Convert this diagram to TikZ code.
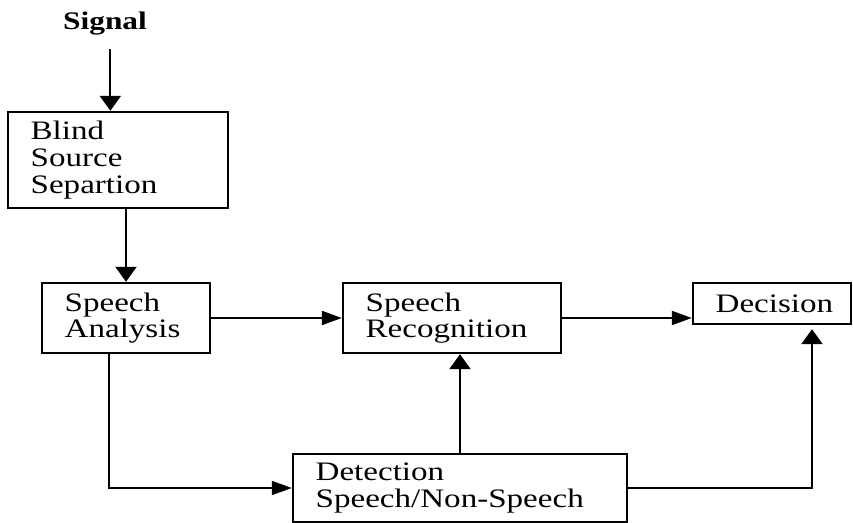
\documentclass[tikz,border=0pt]{standalone}
\usepackage{fontspec}
\setmainfont[FakeStretch=1.24]{Liberation Serif}
\usetikzlibrary{arrows.meta}

\tikzset{
	blk/.style={draw, line width=1.8pt, inner xsep=17pt, inner ysep=0pt, align=left, font=\fontsize{20}{20}\selectfont},
	lbl/.style={inner sep=0pt, font=\fontsize{19}{20}\selectfont\bfseries},
	harr/.style={line width=1.6pt, -{Triangle[length=15pt,width=10.5pt]}},
	varr/.style={line width=1.6pt, -{Triangle[length=11.25pt,width=15.75pt]}}
}

\begin{document}
\begin{tikzpicture}[x=0.75pt,y=0.75pt,yscale=-1]
	\useasboundingbox (0,0) rectangle (853,523);

	% Text Node
	\node [lbl] (sig) at (105,24) {Signal};
	% Blocks
	\node [blk, text width=131pt, minimum height=72pt] (bss) at (118,160) {Blind\\Source\\Separtion};
	\node [blk, text width=92pt, minimum height=52.5pt] (sa) at (126,318) {Speech\\Analysis};
	\node [blk, text width=129.5pt, minimum height=52.5pt] (sr) at (452,318) {Speech\\Recognition};
	\node [blk, text width=84.5pt, minimum height=30.75pt] (dec) at (772,303.5) {Decision};
	\node [blk, text width=216.5pt, minimum height=51pt] (det) at (460,488) {Detection\\Speech/Non-Speech};

	% bend points
	\coordinate (sabend) at (109,488);
	\coordinate (decin) at (812,488);

	% Connection
	\draw [varr] ([xshift=4pt,yshift=10pt]sig.south) -- ([xshift=4pt]sig.south |- bss.north);
	\draw [varr] (sa.north |- bss.south) -- (sa.north);
	\draw [harr] (sa.east) -- (sr.west);
	\draw [harr] (sr.east) -- (sr.east -| dec.west);
	\draw [harr] (sabend |- sa.south) |- (det.west);
	\draw [varr] (det.north) -- (det.north |- sr.south);
	\draw [varr] (det.east) -| ([yshift=3pt]decin |- dec.south);

\end{tikzpicture}
\end{document}
